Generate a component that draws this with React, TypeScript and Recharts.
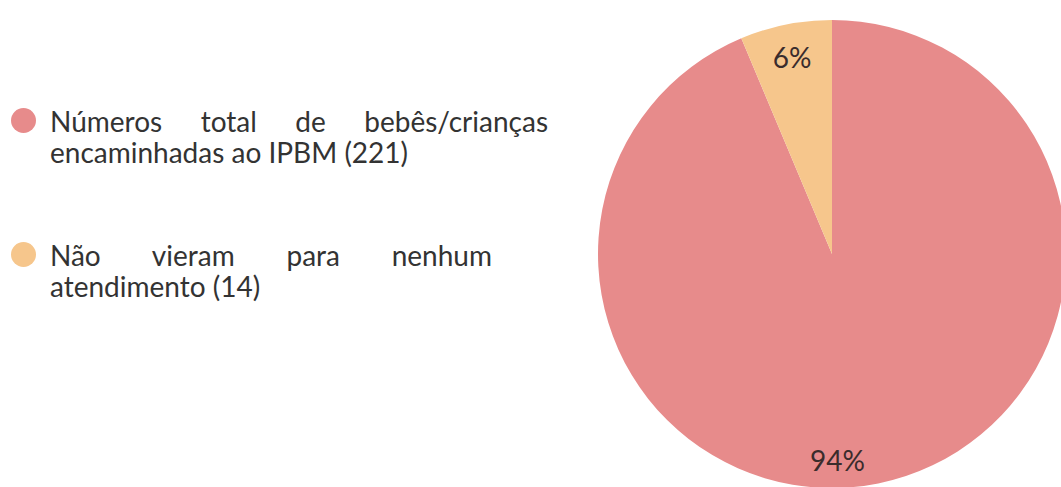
import { PieChart, Pie, Cell, Legend } from 'recharts';

const categories = [
  'Números total de bebês/crianças encaminhadas ao IPBM (221)',
  'Não vieram para nenhum atendimento (14)',
];
const legendLines = [
  ['Números total de bebês/crianças', 'encaminhadas ao IPBM (221)'],
  ['Não vieram para nenhum', 'atendimento (14)'],
];
const values = [207, 14];
const percentLabels = ['94%', '6%'];
const colors = ['#E78B8B', '#F6C68C'];

const data = categories.map((name, i) => ({ name, value: values[i] }));

const RADIAN = Math.PI / 180;

const renderLabel = ({ cx, cy, midAngle, outerRadius, index }: any) => {
  // the big slice's label sits almost straight below the centre in the original
  const angle = index === 0 ? -88.5 : midAngle;
  const r = outerRadius * (index === 0 ? 0.88 : 0.86);
  const x = cx + r * Math.cos(-angle * RADIAN);
  const y = cy + r * Math.sin(-angle * RADIAN);
  return (
    <text
      x={x}
      y={y}
      fill='#3a2c2c'
      textAnchor='middle'
      dominantBaseline='central'
      fontSize={28}
      fontFamily='Lato, sans-serif'
    >
      {percentLabels[index]}
    </text>
  );
};

const legendTops = [106, 240];
const legendWidths = [498, 442];

const renderLegend = () => (
  <div style={{ position: 'relative', width: 600, height: 320 }}>
    {legendLines.map((lines, i) => (
      <div key={i}>
        <div
          style={{
            position: 'absolute',
            left: 11,
            top: legendTops[i] + 2,
            width: 25,
            height: 25,
            borderRadius: '50%',
            background: colors[i],
          }}
        />
        <div
          style={{
            position: 'absolute',
            left: 50,
            top: legendTops[i],
            width: legendWidths[i],
            fontFamily: 'Lato, sans-serif',
            fontSize: 28,
            lineHeight: '31px',
            color: '#333',
          }}
        >
          <div style={{ textAlign: 'justify', textAlignLast: 'justify' }}>{lines[0]}</div>
          <div>{lines[1]}</div>
        </div>
      </div>
    ))}
  </div>
);

export default function App() {
  return (
    <div style={{ position: 'absolute', left: 0, top: 0, background: '#fff' }}>
      <PieChart width={1061} height={487}>
        <Pie
          data={data}
          dataKey='value'
          nameKey='name'
          cx={827}
          cy={249}
          outerRadius={234}
          startAngle={90}
          endAngle={-270}
          stroke='none'
          labelLine={false}
          label={renderLabel}
          isAnimationActive={false}
        >
          {data.map((d, i) => (
            <Cell key={d.name} fill={colors[i]} />
          ))}
        </Pie>
        <Legend
          content={renderLegend}
          wrapperStyle={{ left: 0, top: 0, width: 600 }}
        />
      </PieChart>
    </div>
  );
}
